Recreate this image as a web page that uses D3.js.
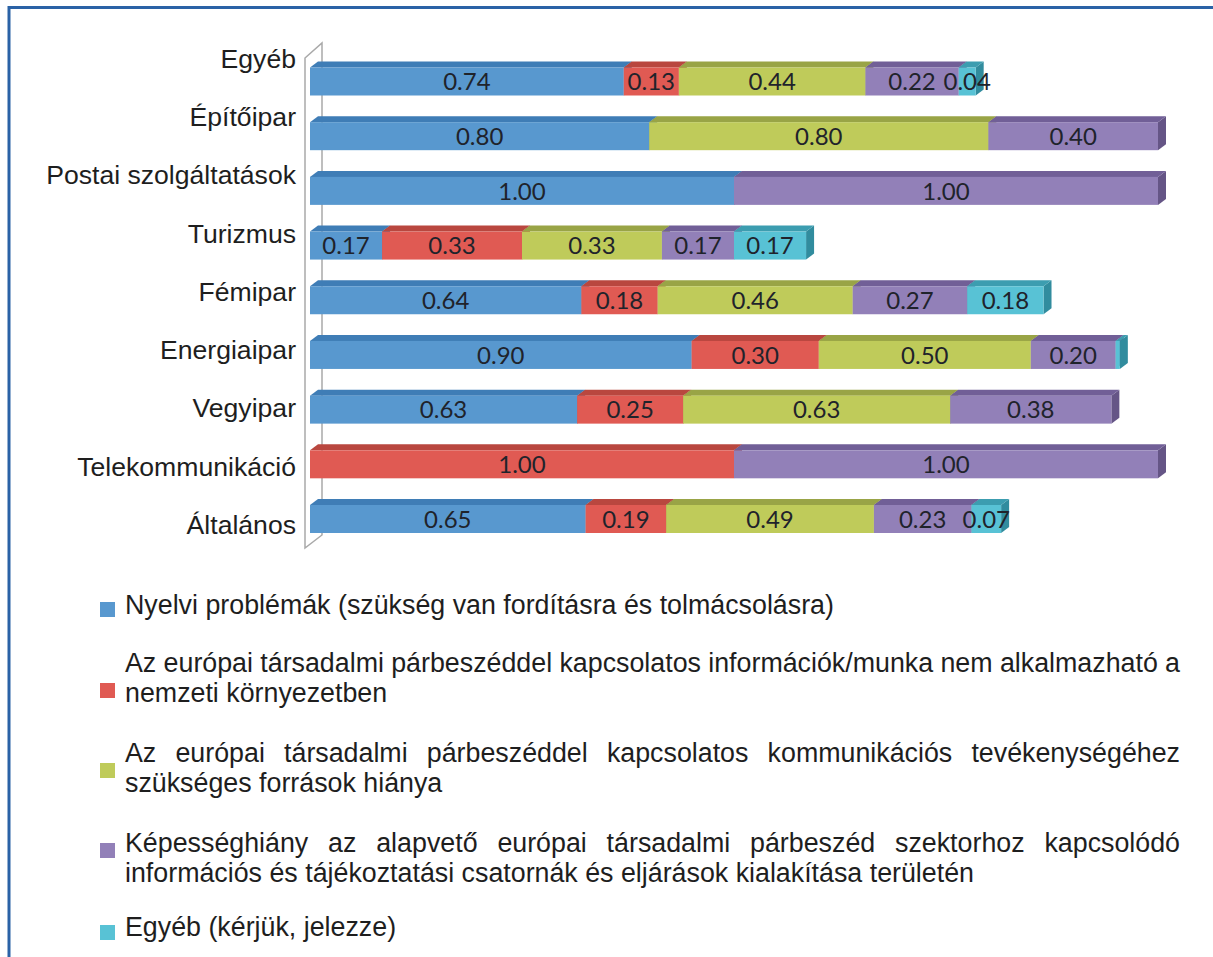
<!DOCTYPE html>
<html>
<head>
<meta charset="utf-8">
<script src="https://cdn.jsdelivr.net/npm/d3@7"></script>
<style>
  body { margin: 0; background: #fff; }
  svg { display: block; }
</style>
</head>
<body>
<svg width="1213" height="957"></svg>
<script>
// categories, top to bottom
const categories = ["Egyéb", "Építőipar", "Postai szolgáltatások", "Turizmus", "Fémipar",
  "Energiaipar", "Vegyipar", "Telekommunikáció", "Általános"];

// series values (same order as categories)
const nyelvi   = [0.74, 0.80, 1.00, 0.17, 0.64, 0.90, 0.63, 0.00, 0.65];
const nemzeti  = [0.13, 0.00, 0.00, 0.33, 0.18, 0.30, 0.25, 1.00, 0.19];
const forras   = [0.44, 0.80, 0.00, 0.33, 0.46, 0.50, 0.63, 0.00, 0.49];
const kepesseg = [0.22, 0.40, 1.00, 0.17, 0.27, 0.20, 0.38, 1.00, 0.23];
const egyeb    = [0.04, 0.00, 0.00, 0.17, 0.18, 0.01, 0.00, 0.00, 0.07];

const seriesKeys = ["nyelvi", "nemzeti", "forras", "kepesseg", "egyeb"];

const legendLines = [
  ["Nyelvi problémák (szükség van fordításra és tolmácsolásra)"],
  ["Az európai társadalmi párbeszéddel kapcsolatos információk/munka nem alkalmazható a",
   "nemzeti környezetben"],
  ["Az európai társadalmi párbeszéddel kapcsolatos kommunikációs tevékenységéhez",
   "szükséges források hiánya"],
  ["Képességhiány az alapvető európai társadalmi párbeszéd szektorhoz kapcsolódó",
   "információs és tájékoztatási csatornák és eljárások kialakítása területén"],
  ["Egyéb (kérjük, jelezze)"]
];

const svg = d3.select("svg"),
    width = +svg.attr("width"),
    height = +svg.attr("height");

const front = {nyelvi: "#5898cf", nemzeti: "#e05a53", forras: "#bfcb5a", kepesseg: "#9280b8", egyeb: "#58c2d5"};
const top_  = {nyelvi: "#3f7db6", nemzeti: "#b9473f", forras: "#99a446", kepesseg: "#715f97", egyeb: "#3c9db0"};
const side  = {nyelvi: "#386fa2", nemzeti: "#a53f38", forras: "#88923e", kepesseg: "#655586", egyeb: "#318c9e"};

const x = d3.scaleLinear().domain([0, 2]).range([310, 1158]);
const y = d3.scalePoint().domain(categories).range([81.5, 519]);
const yLabel = d3.scalePoint().domain(categories).range([58, 524]);
const barH = 28, dx = 8, dy = 6;

// outer frame (only top and left edges are in view)
svg.append("path")
    .attr("d", `M9,${height} V7.5 H${width}`)
    .attr("fill", "none")
    .attr("stroke", "#2a62a6")
    .attr("stroke-width", 3);

// back wall of the 3D plot
svg.append("path")
    .attr("d", "M305,58 L322,43 L322,535 L305,548 Z")
    .attr("fill", "#fff")
    .attr("stroke", "#a9a9a9")
    .attr("stroke-width", 1.5);

// category axis
const axis = svg.append("g")
    .attr("transform", "translate(296,0)")
    .call(d3.axisLeft(yLabel).tickSize(0).tickPadding(0));
axis.select(".domain").remove();
axis.selectAll("text")
    .attr("font-family", "'Liberation Sans', Arial, sans-serif")
    .attr("font-size", 26.6)
    .attr("fill", "#1e1e1e")
    .attr("dy", "0.35em");

// stacked bars
const rows = categories.map((c, i) => ({
  cat: c, nyelvi: nyelvi[i], nemzeti: nemzeti[i], forras: forras[i], kepesseg: kepesseg[i], egyeb: egyeb[i]
}));
const stacked = d3.stack().keys(seriesKeys)(rows);

const bars = svg.append("g").attr("class", "bars");
stacked.forEach(layer => {
  const k = layer.key;
  layer.forEach(d => {
    if (d[1] - d[0] <= 0) return;
    const x0 = x(d[0]), x1 = x(d[1]);
    const yt = y(d.data.cat) - barH / 2, yb = yt + barH;
    const g = bars.append("g");
    g.append("path")
        .attr("d", `M${x1},${yt} L${x1 + dx},${yt - dy} L${x1 + dx},${yb - dy} L${x1},${yb} Z`)
        .attr("fill", side[k]);
    g.append("path")
        .attr("d", `M${x0},${yt} L${x0 + dx},${yt - dy} L${x1 + dx},${yt - dy} L${x1},${yt} Z`)
        .attr("fill", top_[k]);
    g.append("rect")
        .attr("x", x0).attr("y", yt)
        .attr("width", x1 - x0).attr("height", barH)
        .attr("fill", front[k]);
  });
});

// value labels
const fmt = d3.format(".2f");
stacked.forEach(layer => {
  svg.append("g").selectAll("text")
      .data(layer.filter(d => d[1] - d[0] >= 0.03))
      .enter().append("text")
      .attr("x", d => (x(d[0]) + x(d[1])) / 2)
      .attr("y", d => y(d.data.cat))
      .attr("dy", "0.36em")
      .attr("text-anchor", "middle")
      .attr("font-family", "Lato, 'Open Sans', sans-serif")
      .attr("font-size", 24)
      .attr("fill", "#1f232b")
      .text(d => fmt(d[1] - d[0]));
});

// legend
const markerY = [602, 683, 763, 843, 925];
const firstBaseline = [614, 672, 762, 852, 936];
const lineGap = 30, textX = 125, textRight = 1180;

const legend = svg.append("g")
    .attr("font-family", "'Liberation Sans', Arial, sans-serif")
    .attr("font-size", 26.8)
    .attr("fill", "#1e1e1e");

legendLines.forEach((lines, i) => {
  legend.append("rect")
      .attr("x", 100).attr("y", markerY[i])
      .attr("width", 15).attr("height", 15)
      .attr("fill", front[seriesKeys[i]]);

  lines.forEach((line, j) => {
    const t = legend.append("text")
        .attr("x", textX)
        .attr("y", firstBaseline[i] + j * lineGap);
    const justify = j < lines.length - 1;
    if (!justify) { t.text(line); return; }
    // justify: place each word so the line fills textX..textRight
    const words = line.split(" ");
    const spans = words.map(w => t.append("tspan").text(w));
    const widths = spans.map(s => s.node().getComputedTextLength());
    const total = d3.sum(widths);
    const gap = (textRight - textX - total) / (words.length - 1);
    let cx = textX;
    spans.forEach((s, n) => {
      s.attr("x", cx);
      cx += widths[n] + gap;
    });
  });
});
</script>
</body>
</html>
